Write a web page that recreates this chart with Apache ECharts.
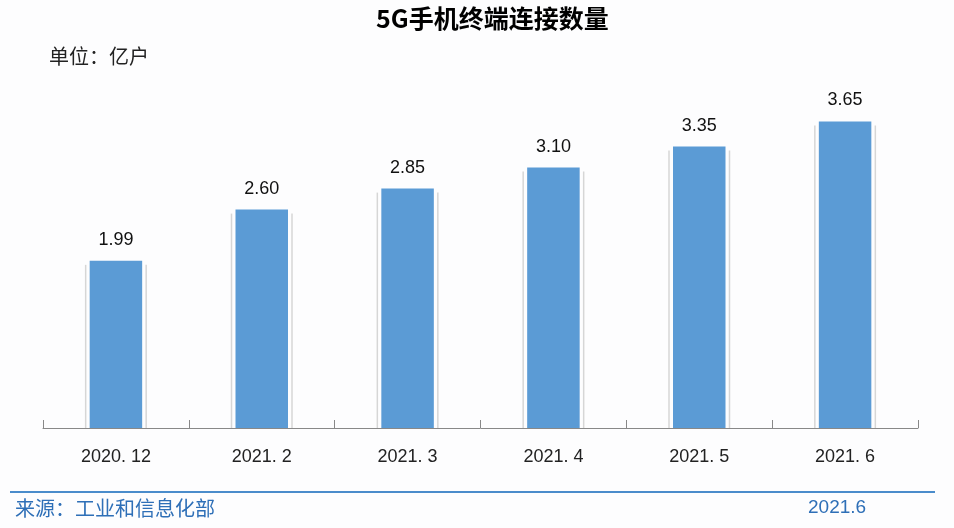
<!DOCTYPE html>
<html><head><meta charset="utf-8">
<script src="https://cdn.jsdelivr.net/npm/echarts@6/dist/echarts.min.js"></script>
<style>html,body{margin:0;padding:0;background:#fdfdfe;}#c{width:954px;height:528px;}</style>
</head><body><div id="c"></div>
<script>
const categories = ['2020. 12', '2021. 2', '2021. 3', '2021. 4', '2021. 5', '2021. 6'];
const values = [1.99, 2.60, 2.85, 3.10, 3.35, 3.65];
const titleText = '5G手机终端连接数量';
const unitText = '单位：亿户';
const sourceText = '来源：工业和信息化部';
const dateText = '2021.6';

const chart = echarts.init(document.getElementById('c'));
const BAR_RATIO = 0.36;
chart.setOption({
  backgroundColor: '#fdfdfe',
  animation: false,
  title: [{
    text: titleText, left: 371, top: 1,
    textStyle: {fontFamily: 'Noto Sans CJK SC', fontWeight: 'bold', fontSize: 25, color: '#000'}
  }, {
    text: unitText, left: 44, top: 41,
    textStyle: {fontFamily: 'Noto Sans CJK SC', fontWeight: 'normal', fontSize: 20, color: '#222'}
  }],
  grid: {left: 43, right: 36, top: 50, bottom: 100},
  xAxis: {
    type: 'category', data: categories, boundaryGap: true,
    axisLine: {show: true, lineStyle: {color: '#888', width: 1}},
    axisTick: {show: true, inside: true, length: 8, interval: 0, lineStyle: {color: '#888', width: 1}},
    axisLabel: {margin: 20, fontFamily: 'Liberation Sans', fontSize: 18, color: '#222'}
  },
  yAxis: {type: 'value', min: 0, max: 4.5, show: false, splitLine: {show: false}},
  series: [{
    type: 'custom',
    data: values.map((v, i) => [i, v]),
    z: 1,
    renderItem: function (params, api) {
      const top = api.coord([api.value(0), api.value(1)]);
      const base = api.coord([api.value(0), 0]);
      const w = api.size([1, 0])[0] * BAR_RATIO;
      const xl = top[0] - w / 2 - 4, xr = top[0] + w / 2 + 4;
      const style = {stroke: '#d6d6d6', lineWidth: 1.5};
      return {type: 'group', children: [
        {type: 'line', shape: {x1: xl, y1: top[1] + 4, x2: xl, y2: base[1]}, style: style},
        {type: 'line', shape: {x1: xr, y1: top[1] + 4, x2: xr, y2: base[1]}, style: style}
      ]};
    }
  }, {
    type: 'bar', data: values, barWidth: (BAR_RATIO * 100) + '%', z: 2,
    itemStyle: {color: '#5b9bd5'},
    label: {show: true, position: 'top', distance: 12, formatter: p => p.value.toFixed(2),
      fontFamily: 'Liberation Sans', fontSize: 18, color: '#111'}
  }],
  graphic: [
    {type: 'line', shape: {x1: 10, y1: 492, x2: 935, y2: 492}, style: {stroke: '#4a8ccb', lineWidth: 2}},
    {type: 'text', left: 15, top: 498, style: {text: sourceText, font: '20px "Noto Sans CJK SC"', fill: '#2e6fb7'}},
    {type: 'text', left: 808, top: 498, style: {text: dateText, font: '19px "Liberation Sans"', fill: '#2e6fb7'}}
  ]
});
</script></body></html>
